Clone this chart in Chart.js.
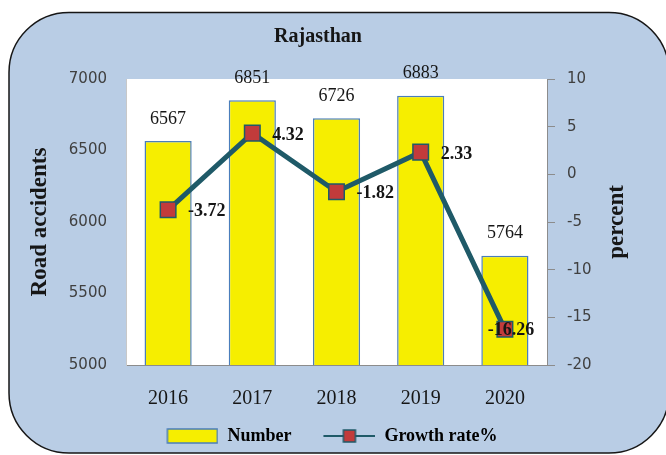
<!DOCTYPE html>
<html>
<head>
<meta charset="utf-8">
<script src="https://cdn.jsdelivr.net/npm/chart.js@4"></script>
<style>
  html, body { margin: 0; padding: 0; background: #fff; }
  #wrap { width: 666px; height: 455px; }
</style>
</head>
<body>
<div id="wrap"><canvas id="rajChart" width="666" height="455"></canvas></div>
<script>
const years = ['2016', '2017', '2018', '2019', '2020'];
const accidents = [6567, 6851, 6726, 6883, 5764];
const growthRate = [-3.72, 4.32, -1.82, 2.33, -16.26];
const accidentTicks = [5000, 5500, 6000, 6500, 7000];
const percentTicks = [-20, -15, -10, -5, 0, 5, 10];

const SERIF = '"Liberation Serif", "Times New Roman", serif';
const barFill = '#f6ee00';
const barEdge = '#4a7ebb';
const lineColor = '#1f5a68';
const markerFill = '#c23b3b';
const ink = '#161616';

// legend swatches are 68px wide, drawn in the right 52px
function legendIcon(draw) {
    const c = document.createElement('canvas');
    c.width = 68;
    c.height = 16;
    const g = c.getContext('2d');
    g.translate(16, 0);
    draw(g);
    return c;
}

const barIcon = legendIcon(g => {
    g.fillStyle = barFill;
    g.fillRect(1, 1, 50, 14);
    g.strokeStyle = barEdge;
    g.lineWidth = 1.5;
    g.strokeRect(1, 1, 50, 14);
});

const lineIcon = legendIcon(g => {
    g.strokeStyle = lineColor;
    g.lineWidth = 2;
    g.beginPath();
    g.moveTo(0, 8);
    g.lineTo(52, 8);
    g.stroke();
    g.fillStyle = markerFill;
    g.fillRect(20, 2, 12, 12);
    g.lineWidth = 1.5;
    g.strokeRect(20, 2, 12, 12);
});

// blue rounded panel behind everything, white plot area
const panel = {
    id: 'panel',
    afterLayout(chart) {
        // legend sits a little right of the title
        chart.legend.left += 6;
        chart.legend.right += 6;
    },
    beforeDraw(chart) {
        const {ctx, chartArea: a} = chart;
        ctx.save();
        ctx.fillStyle = '#ffffff';
        ctx.fillRect(0, 0, chart.width, chart.height);
        ctx.beginPath();
        ctx.roundRect(9, 12.5, 660, 440.5, 60);
        ctx.fillStyle = '#b9cde5';
        ctx.fill();
        ctx.lineWidth = 1.5;
        ctx.strokeStyle = ink;
        ctx.stroke();
        ctx.fillStyle = '#ffffff';
        ctx.fillRect(a.left, a.top, a.right - a.left, a.bottom - a.top);
        ctx.restore();
    }
};

const valueLabels = {
    id: 'valueLabels',
    afterDatasetsDraw(chart) {
        const ctx = chart.ctx;
        ctx.save();
        ctx.fillStyle = ink;
        ctx.textBaseline = 'middle';
        ctx.textAlign = 'center';
        ctx.font = '18px ' + SERIF;
        chart.getDatasetMeta(0).data.forEach((bar, i) => {
            ctx.fillText(String(accidents[i]), bar.x, bar.y - 22);
        });
        ctx.font = 'bold 18px ' + SERIF;
        const last = growthRate.length - 1;
        chart.getDatasetMeta(1).data.forEach((pt, i) => {
            const txt = growthRate[i].toFixed(2);
            if (i === last) {
                ctx.textAlign = 'center';
                ctx.fillText(txt, pt.x + 6, pt.y + 1);
            } else {
                ctx.textAlign = 'left';
                ctx.fillText(txt, pt.x + 20, pt.y + 2);
            }
        });
        ctx.restore();
    }
};

// right-hand axis title reads bottom to top like the left one
const percentTitle = {
    id: 'percentTitle',
    afterDraw(chart) {
        const {ctx, chartArea: a} = chart;
        ctx.save();
        ctx.translate(617, (a.top + a.bottom) / 2);
        ctx.rotate(-Math.PI / 2);
        ctx.font = 'bold 23px ' + SERIF;
        ctx.fillStyle = ink;
        ctx.textAlign = 'center';
        ctx.textBaseline = 'middle';
        ctx.fillText('percent', 0, 0);
        ctx.restore();
    }
};

const tickFont = { family: '"DejaVu Sans", Tahoma, sans-serif', size: 15 };
const plain = v => String(v);

new Chart(document.getElementById('rajChart'), {
    data: {
        labels: years,
        datasets: [{
            type: 'bar',
            label: 'Number',
            data: accidents,
            yAxisID: 'y',
            backgroundColor: barFill,
            borderColor: barEdge,
            borderWidth: 1.5,
            barPercentage: 0.56,
            categoryPercentage: 1.0,
            order: 1
        }, {
            type: 'line',
            label: 'Growth rate%',
            data: growthRate,
            yAxisID: 'y2',
            borderColor: lineColor,
            borderWidth: 5,
            pointStyle: 'rect',
            pointRadius: 11,
            pointBackgroundColor: markerFill,
            pointBorderColor: lineColor,
            pointBorderWidth: 1.5,
            tension: 0,
            order: 0
        }]
    },
    options: {
        responsive: false,
        animation: false,
        layout: { padding: { left: 8, right: 38, top: 16, bottom: 0 } },
        scales: {
            x: {
                grid: { display: false, drawTicks: false },
                border: { display: true, color: '#8c8c8c', width: 1 },
                ticks: { padding: 22, color: ink, font: { family: SERIF, size: 20 } },
                afterFit: s => { s.height = 46; }
            },
            y: {
                position: 'left',
                min: 5000,
                max: 7000,
                afterBuildTicks: s => { s.ticks = accidentTicks.map(v => ({ value: v })); },
                afterFit: s => { s.width = 118; },
                grid: { display: false, drawTicks: false },
                border: { display: true, color: '#c8c8c8', width: 1 },
                ticks: { padding: 19, color: '#404040', font: tickFont, callback: plain },
                title: {
                    display: true,
                    text: 'Road accidents',
                    color: ink,
                    font: { family: SERIF, size: 23, weight: 'bold' },
                    padding: { top: 18, bottom: 0 }
                }
            },
            y2: {
                position: 'right',
                min: -20,
                max: 10,
                afterBuildTicks: s => { s.ticks = percentTicks.map(v => ({ value: v })); },
                afterFit: s => { s.width = 81; },
                grid: { drawOnChartArea: false, drawTicks: true, tickLength: 8, color: '#8c8c8c' },
                border: { display: true, color: '#8c8c8c', width: 1 },
                ticks: { padding: 12, color: '#404040', font: tickFont, callback: plain }
            }
        },
        plugins: {
            title: {
                display: true,
                text: 'Rajasthan',
                color: ink,
                font: { family: SERIF, size: 20, weight: 'bold' },
                padding: { top: 9, bottom: 30 }
            },
            legend: {
                position: 'bottom',
                labels: {
                    usePointStyle: true,
                    pointStyleWidth: 68,
                    padding: 16,
                    color: ink,
                    font: { family: SERIF, size: 18, weight: 'bold' },
                    generateLabels: () => [
                        { text: 'Number', pointStyle: barIcon, fillStyle: barFill, strokeStyle: barEdge, lineWidth: 0, hidden: false, datasetIndex: 0 },
                        { text: 'Growth rate%', pointStyle: lineIcon, fillStyle: markerFill, strokeStyle: lineColor, lineWidth: 0, hidden: false, datasetIndex: 1 }
                    ]
                }
            },
            tooltip: { enabled: false }
        }
    },
    plugins: [panel, valueLabels, percentTitle]
});
</script>
</body>
</html>
